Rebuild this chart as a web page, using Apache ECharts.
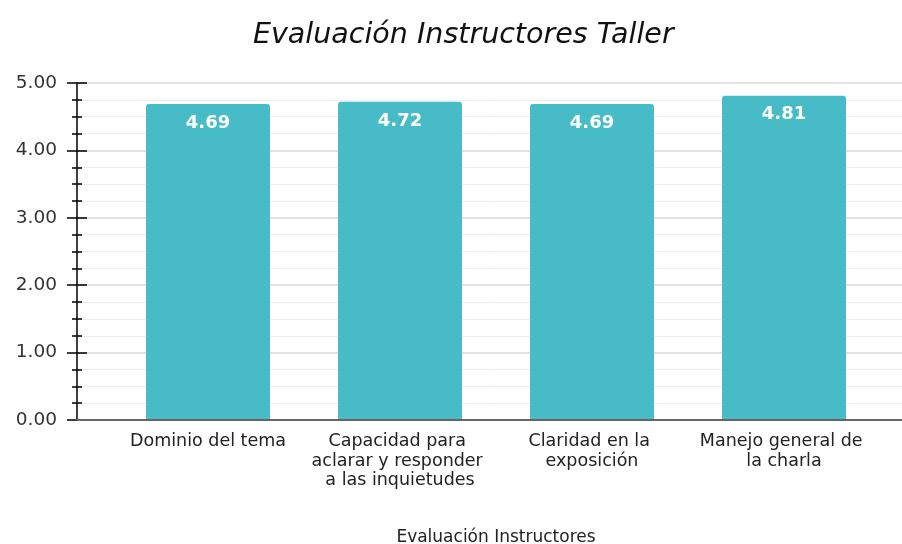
<!DOCTYPE html>
<html><head><meta charset="utf-8">
<script src="https://cdn.jsdelivr.net/npm/echarts@6/dist/echarts.min.js"></script>
<style>html,body{margin:0;padding:0;background:#fff}#c{width:902px;height:544px}</style>
</head><body><div id="c"></div>
<script>
const titleText = 'Evaluación Instructores Taller';
const axisName = 'Evaluación Instructores';
const categories = ['Dominio del tema', 'Capacidad para aclarar y responder a las inquietudes', 'Claridad en la exposición', 'Manejo general de la charla'];
const values = [4.69, 4.72, 4.69, 4.81];
const yMin = 0, yMax = 5, yStep = 1;

const font = 'DejaVu Sans, sans-serif';
const chart = echarts.init(document.getElementById('c'));
const yBase = {
  type: 'value', min: yMin, max: yMax, interval: yStep, gridIndex: 1, position: 'left'
};
chart.setOption({
  animation: false,
  title: {
    text: titleText, left: 248, top: 16,
    textStyle: { fontFamily: font, fontStyle: 'italic', fontWeight: 'normal', fontSize: 28.5, color: '#111' }
  },
  grid: [
    { left: 112, right: 22, top: 83, bottom: 124, outerBoundsMode: 'none', containLabel: false },
    { left: 77, right: 0, top: 83, bottom: 124, outerBoundsMode: 'none', containLabel: false }
  ],
  xAxis: [
    {
      type: 'category', data: categories, gridIndex: 0,
      axisLine: { show: false }, axisTick: { show: false },
      axisLabel: { fontFamily: font, fontSize: 17.5, color: '#222', margin: 12, lineHeight: 19.5, width: 178, overflow: 'break', interval: 0 },
      name: axisName, nameLocation: 'middle', nameGap: 109,
      nameTextStyle: { fontFamily: font, fontSize: 17, color: '#222' }
    },
    {
      type: 'value', gridIndex: 1, min: 0, max: 1, z: 5,
      axisLine: { show: true, lineStyle: { color: '#666', width: 2 } },
      axisTick: { show: false }, axisLabel: { show: false }, splitLine: { show: false }
    }
  ],
  yAxis: [
    { type: 'value', min: yMin, max: yMax, interval: yStep, gridIndex: 0, show: false },
    Object.assign({}, yBase, {
      axisLine: { show: true, lineStyle: { color: '#000', width: 1.5 } },
      axisTick: { show: true, length: 10, lineStyle: { color: '#000', width: 1.5 } },
      minorTick: { show: true, splitNumber: 4, length: 5, lineStyle: { color: '#000', width: 1.5 } },
      axisLabel: { fontFamily: font, fontSize: 18.5, color: '#333', margin: 20, formatter: v => v.toFixed(2) },
      splitLine: { show: true, lineStyle: { color: '#d9d9d9', width: 1.5 } },
      minorSplitLine: { show: true, lineStyle: { color: '#ececec', width: 1 } }
    }),
    Object.assign({}, yBase, {
      axisLine: { show: false },
      axisTick: { show: true, inside: true, length: 10, lineStyle: { color: '#000', width: 1.5 } },
      minorTick: { show: true, splitNumber: 4, length: 5, lineStyle: { color: '#000', width: 1.5 } },
      axisLabel: { show: false }, splitLine: { show: false }
    })
  ],
  series: [{
    type: 'bar', data: values, xAxisIndex: 0, yAxisIndex: 0, barWidth: 124,
    itemStyle: { color: '#47bcc6', borderRadius: [3, 3, 0, 0] },
    label: {
      show: true, position: 'insideTop', distance: 10, color: '#fff',
      fontFamily: font, fontWeight: 'bold', fontSize: 18,
      formatter: p => p.value.toFixed(2)
    }
  }]
});
</script></body></html>
